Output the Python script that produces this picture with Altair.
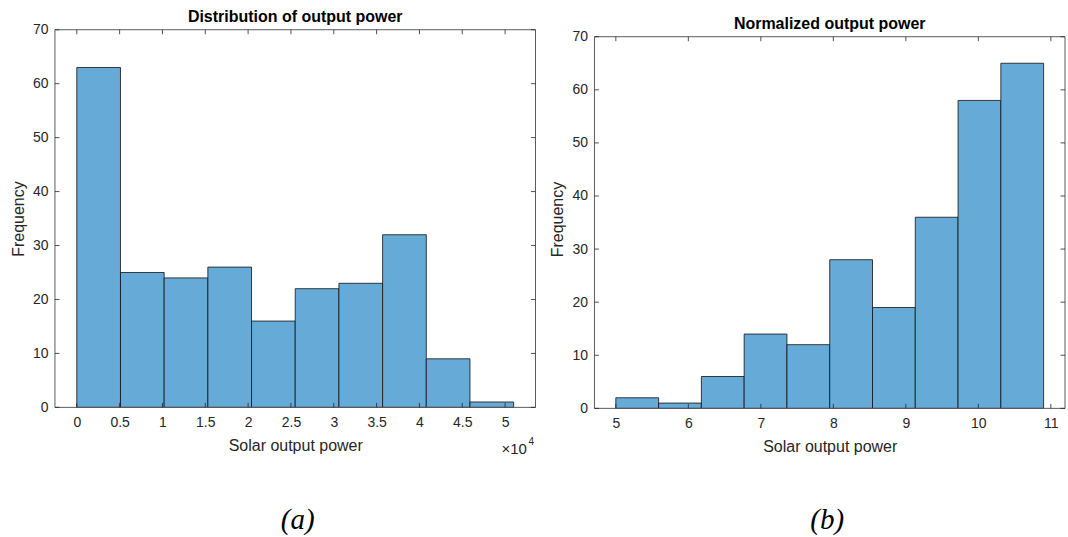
import altair as alt
import pandas as pd

# ---- data ----
left_edges = [0, 5100, 10200, 15300, 20400, 25500, 30600, 35700, 40800, 45900, 51000]
left_counts = [63, 25, 24, 26, 16, 22, 23, 32, 9, 1]
left_xticks = [0, 5000, 10000, 15000, 20000, 25000, 30000, 35000, 40000, 45000, 50000]

right_edges = [5.0, 5.59, 6.18, 6.77, 7.36, 7.95, 8.54, 9.13, 9.72, 10.31, 10.9]
right_counts = [2, 1, 6, 14, 12, 28, 19, 36, 58, 65]
right_xticks = [5, 6, 7, 8, 9, 10, 11]

yticks = [0, 10, 20, 30, 40, 50, 60, 70]

FILL = "#66AAD7"
AXC = "#262626"
FONT = "Liberation Sans"
TICK = 4.5


def panel(edges, counts, xticks, xdomain, ytop, w, h, top, title, label_expr,
          caption, cap_xy, extra=None):
    bars = pd.DataFrame({"start": edges[:-1], "end": edges[1:], "count": counts})
    xt = pd.DataFrame({"v": xticks})
    yt = pd.DataFrame({"v": yticks})
    one = pd.DataFrame({"a": [0]})
    xs = alt.Scale(domain=xdomain, nice=False, zero=False)
    ys = alt.Scale(domain=[0, ytop], nice=False)

    rects = alt.Chart(bars).mark_rect(fill=FILL, stroke="#111111", strokeWidth=0.8).encode(
        x=alt.X("start:Q", scale=xs, title="Solar output power",
                axis=alt.Axis(values=xticks, labelExpr=label_expr, ticks=False, domain=False,
                              grid=False, labelPadding=8, titlePadding=8.5)),
        x2="end:Q",
        y=alt.Y("count:Q", scale=ys, title="Frequency",
                axis=alt.Axis(values=yticks, ticks=False, domain=False, grid=False,
                              labelPadding=7, titlePadding=6)),
        y2=alt.datum(0),
    )
    frame = alt.Chart(one).mark_rect(fill="transparent", stroke="#5a5a5a", strokeWidth=1).encode(
        x=alt.value(0), x2=alt.value(w), y=alt.value(top), y2=alt.value(h))
    tb = alt.Chart(xt).mark_rule(color=AXC, strokeWidth=0.8).encode(
        x=alt.X("v:Q", scale=xs), y=alt.value(h), y2=alt.value(h - TICK))
    tt = alt.Chart(xt).mark_rule(color=AXC, strokeWidth=0.8).encode(
        x=alt.X("v:Q", scale=xs), y=alt.value(top), y2=alt.value(top + TICK))
    tl = alt.Chart(yt).mark_rule(color=AXC, strokeWidth=0.8).encode(
        y=alt.Y("v:Q", scale=ys), x=alt.value(0), x2=alt.value(TICK))
    tr = alt.Chart(yt).mark_rule(color=AXC, strokeWidth=0.8).encode(
        y=alt.Y("v:Q", scale=ys), x=alt.value(w), x2=alt.value(w - TICK))
    ttl = alt.Chart(pd.DataFrame({"t": [title]})).mark_text(
        font=FONT, fontSize=16, fontWeight="bold", color="#000000",
        baseline="middle", align="center").encode(
        text="t:N", x=alt.value(w / 2), y=alt.value(top - 12.5))
    cap = alt.Chart(pd.DataFrame({"t": [caption]})).mark_text(
        font="Liberation Serif", fontStyle="italic", fontSize=29, color="#000000",
        baseline="middle", align="center").encode(
        text="t:N", x=alt.value(cap_xy[0]), y=alt.value(cap_xy[1]))
    layers = [rects, frame, tb, tt, tl, tr, ttl, cap]
    if extra is not None:
        layers += extra
    return alt.layer(*layers).properties(width=w, height=h)


exp_txt = alt.Chart(pd.DataFrame({"t": ["×10"]})).mark_text(
    font=FONT, fontSize=15, color=AXC, align="left", baseline="middle").encode(
    text="t:N", x=alt.value(447), y=alt.value(420))
exp_sup = alt.Chart(pd.DataFrame({"t": ["4"]})).mark_text(
    font=FONT, fontSize=10, color=AXC, align="left", baseline="middle").encode(
    text="t:N", x=alt.value(474), y=alt.value(413))

# left plot area: 481 x 378 ; right: 471 x 372, drawn 7 px lower inside a 379 px tall view
left = panel(left_edges, left_counts, left_xticks, [-2550, 53550], 70, 481, 378, 0,
             "Distribution of output power", "datum.value / 10000 + ''", "(a)",
             (243, 491), extra=[exp_txt, exp_sup])
right = panel(right_edges, right_counts, right_xticks, [4.705, 11.195], 70 * 379 / 372,
              471, 379, 7, "Normalized output power", "datum.value + ''", "(b)", (233, 491))

chart = alt.hconcat(left, right, spacing=59).properties(
    bounds="flush",
    padding={"left": 9, "top": 8.5, "right": 2, "bottom": 2},
).configure_view(stroke="transparent").configure_axis(
    labelFont=FONT, labelFontSize=14, labelColor=AXC,
    titleFont=FONT, titleFontSize=16, titleColor=AXC, titleFontWeight="normal",
).configure_concat(spacing=59)

chart.save("out.html", embed_options={"renderer": "svg", "actions": False})
